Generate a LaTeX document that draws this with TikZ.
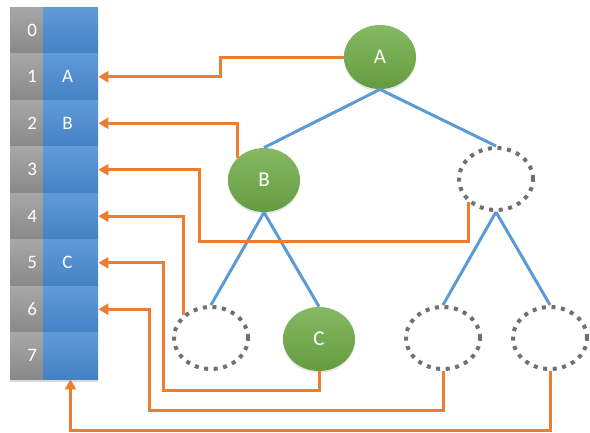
\documentclass[tikz,border=0pt]{standalone}
\usepackage{fontspec}
\setmainfont{Carlito}
\usetikzlibrary{shapes.geometric,shadows,arrows.meta}
\definecolor{linkorange}{RGB}{237,125,49}
\definecolor{branchblue}{RGB}{91,155,213}
\definecolor{leafgreen}{RGB}{112,173,71}
\definecolor{holegray}{RGB}{112,112,112}
\definecolor{slotblue}{RGB}{74,141,212}
\definecolor{indexgray}{RGB}{152,152,152}

\begin{document}
\begin{tikzpicture}[x=1pt,y=-1pt,thick,
  tree node/.style={ellipse,inner sep=0pt},
  full node/.style={tree node,minimum width=72pt,minimum height=64pt,
    top color=leafgreen!85!white,bottom color=leafgreen!90!black,
    drop shadow={opacity=0.2,shadow xshift=0pt,shadow yshift=-2pt},
    text=white,font=\fontsize{21}{24}\selectfont},
  empty node/.style={tree node,minimum width=74pt,minimum height=62pt,
    draw=holegray,line width=4pt,dash pattern=on 4pt off 5.6pt},
  cell/.style={rectangle,inner sep=0pt,minimum height=46.5pt,
    drop shadow={opacity=0.3,shadow xshift=0pt,shadow yshift=-3pt},
    text=white,font=\fontsize{19}{22}\selectfont},
  index cell/.style={cell,minimum width=33pt,text width=21pt,align=right,
    top color=indexgray!85!white,bottom color=indexgray!90!black},
  slot cell/.style={cell,minimum width=55pt,
    top color=slotblue!88!white,bottom color=slotblue!92!black},
  branch/.style={color=branchblue,line width=3pt},
  link/.style={draw=linkorange,line width=3pt,
    -{Triangle[length=10pt,width=11pt]}}]

  \useasboundingbox (0,0) rectangle (590,432);

  % the array
  \foreach \i/\v in {0/,1/A,2/B,3/,4/,5/C,6/,7/} {
    \node[index cell] (g\i) at (26.5,30.25+46.5*\i) {\i};
    \node[slot cell] (c\i) at (70.5,30.25+46.5*\i) {\v\hspace*{6pt}};
  }

  % the tree
  \node[full node] (1) at (380,57) {A};
  \node[full node] (2) at (264,180) {B};
  \node[empty node] (3) at (496,179) {};
  \node[empty node] (4) at (211,338) {};
  \node[full node] (5) at (319,339) {C};
  \node[empty node] (6) at (443,338) {};
  \node[empty node] (7) at (550,338) {};

  \path[branch]
  (1.south) edge (2.north)
  (1.south) edge (3.north)
  (2.south) edge (4.north)
  (2.south) edge (5.north)
  (3.south) edge (6.north)
  (3.south) edge (7.north);

  % links back to the slots
  \coordinate (end7) at (70.5,430);
  \draw[link] (1.west) -- (220,57) |- (c1.east);
  \draw[link] (2.140) |- (c2.east);
  \draw[link] (3.220) |- (199,241) |- (c3.east);
  \draw[link] (4.140) |- (c4.east);
  \draw[link] (5.south) |- (163,390) |- (c5.east);
  \draw[link] (6.south) |- (149,410) |- (c6.east);
  \draw[link] (7.south) |- (end7) -- (c7.south);
\end{tikzpicture}
\end{document}
